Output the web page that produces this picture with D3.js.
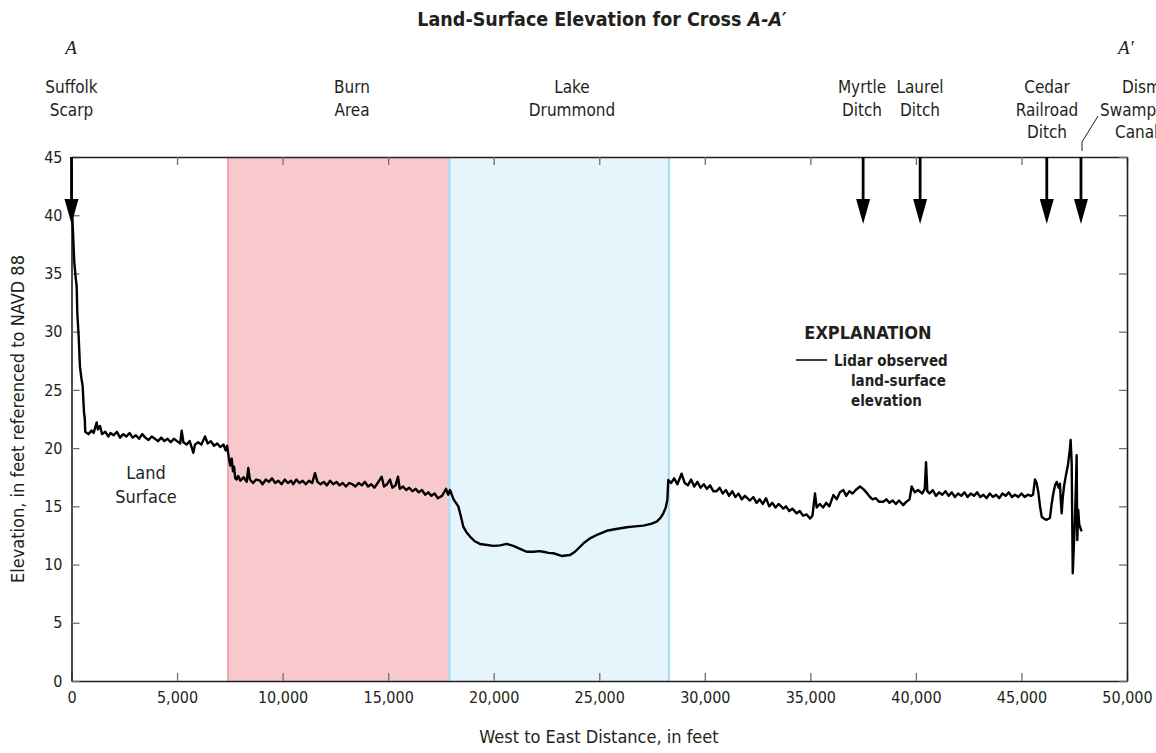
<!DOCTYPE html>
<html lang="en">

<head>
  <meta charset="utf-8">
  <title>Land-Surface Elevation for Cross A-A'</title>
  <script type="text/javascript" src="https://cdn.jsdelivr.net/npm/d3@7"></script>
  <style>
    body { margin: 0; background: #fff; }
    svg text { font-family: "Liberation Sans Narrow", "DejaVu Sans Condensed", "Liberation Sans", sans-serif; fill: #231f20; }
  </style>
</head>

<body>

  <script type="text/javascript">

    // Lidar profile, [distance in feet, elevation in feet]
    var scarpProfile = [
      [0, 40.6], [40, 39.8], [85, 37.9], [130, 36.0], [165, 35.3], [200, 34.6], [245, 33.9],
      [275, 31.6], [340, 29.6], [400, 27.0], [470, 26.0], [530, 25.3], [590, 23.1], [630, 22.5]];

    var westFlat = [
      [650, 21.4], [800, 21.2], [950, 21.5], [1050, 21.3], [1190, 22.2], [1250, 21.6], [1350, 21.9],
      [1450, 21.2], [1600, 21.4], [1750, 21.0], [1850, 21.3], [2000, 21.1], [2150, 21.4], [2300, 20.9],
      [2450, 21.2], [2600, 21.0], [2750, 21.3], [2900, 20.9], [3050, 21.1], [3200, 20.8], [3350, 21.2],
      [3500, 20.9], [3650, 20.7], [3800, 21.0], [3950, 20.8], [4100, 20.6], [4250, 20.9], [4400, 20.6],
      [4550, 20.8], [4700, 20.5], [4850, 20.8], [5000, 20.6], [5150, 20.4], [5220, 21.5], [5300, 20.5],
      [5450, 20.3], [5600, 20.6], [5770, 19.6], [5850, 20.3], [6000, 20.5], [6150, 20.3], [6324, 21.0],
      [6450, 20.4], [6600, 20.6], [6750, 20.2], [6900, 20.4], [7050, 20.1], [7200, 20.3], [7300, 19.8],
      [7370, 20.2], [7450, 19.2], [7520, 18.5], [7590, 19.1], [7650, 18.0], [7700, 18.4], [7760, 17.4],
      [7825, 17.3], [7900, 17.6]];

    var burnProfile = [
      [8000, 17.2], [8150, 17.5], [8300, 17.1], [8375, 18.3], [8450, 17.3], [8600, 17.0], [8750, 17.3],
      [8930, 17.2], [9050, 16.9], [9200, 17.3], [9350, 17.1], [9500, 17.4], [9650, 17.0], [9800, 17.2],
      [9950, 16.9], [10100, 17.3], [10250, 17.0], [10400, 17.2], [10500, 16.9], [10650, 17.3],
      [10800, 17.0], [10950, 17.2], [11100, 16.9], [11250, 17.2], [11400, 17.0], [11535, 17.85],
      [11650, 17.1], [11800, 16.9], [11950, 17.1], [12100, 16.8], [12250, 17.2], [12400, 16.9],
      [12550, 17.1], [12700, 16.8], [12850, 17.0], [13000, 16.7], [13150, 17.0], [13300, 16.9],
      [13450, 16.7], [13600, 17.0], [13750, 16.8], [13900, 17.1], [14050, 16.7], [14200, 16.9],
      [14350, 16.6], [14500, 17.0], [14694, 17.55], [14800, 16.7], [14950, 16.9], [15088, 17.3],
      [15200, 16.6], [15350, 16.8], [15467, 17.55], [15550, 16.5], [15700, 16.7], [15850, 16.4],
      [16000, 16.6], [16150, 16.3], [16300, 16.5], [16450, 16.2], [16600, 16.4], [16750, 16.0],
      [16900, 16.2], [17050, 15.9], [17200, 16.1], [17350, 15.7], [17456, 15.8], [17550, 15.9],
      [17650, 16.2], [17740, 16.5], [17850, 16.0], [17930, 16.4]];

    var lakeProfile = [
      [18100, 15.6], [18324, 15.0], [18450, 14.1], [18560, 13.25], [18700, 12.8], [18877, 12.4],
      [19100, 12.0], [19350, 11.77], [19600, 11.7], [19981, 11.6], [20300, 11.65], [20615, 11.77],
      [20930, 11.6], [21250, 11.35], [21563, 11.1], [21900, 11.1], [22150, 11.15], [22350, 11.1],
      [22600, 11.0], [22825, 10.97], [23220, 10.74], [23615, 10.82], [23850, 11.1], [24090, 11.53],
      [24300, 11.9], [24562, 12.25], [24950, 12.6], [25353, 12.9], [25800, 13.05], [26300, 13.2],
      [26700, 13.28], [27087, 13.34], [27450, 13.5], [27720, 13.68], [27900, 14.0], [28035, 14.4],
      [28150, 14.9], [28225, 15.54], [28270, 17.26]];

    var eastProfile = [
      [28400, 17.0], [28550, 17.4], [28700, 16.9], [28900, 17.8], [29050, 17.0], [29200, 16.8],
      [29350, 17.3], [29500, 16.7], [29650, 17.1], [29800, 16.6], [29950, 16.9], [30100, 16.5],
      [30250, 16.8], [30400, 16.3], [30560, 16.3], [30700, 16.6], [30850, 16.1], [31000, 16.4],
      [31150, 15.9], [31300, 16.3], [31450, 15.8], [31600, 16.1], [31750, 15.6], [31900, 15.9],
      [32140, 15.5], [32300, 15.8], [32450, 15.3], [32600, 15.6], [32750, 15.2], [32900, 15.7],
      [33050, 15.0], [33200, 15.3], [33350, 14.9], [33500, 15.2], [33720, 14.8], [33850, 15.0],
      [34000, 14.6], [34150, 14.8], [34350, 14.4], [34500, 14.6], [34650, 14.2], [34827, 14.3],
      [34985, 13.95], [35100, 14.2], [35220, 16.1], [35300, 14.9], [35450, 15.2], [35600, 14.9],
      [35750, 15.3], [35900, 15.0], [36090, 15.97], [36250, 15.6], [36400, 16.2], [36560, 16.4],
      [36700, 15.9], [36850, 16.3], [37000, 16.1], [37150, 16.4], [37350, 16.7], [37500, 16.5],
      [37650, 16.2], [37825, 15.8], [37950, 15.6], [38100, 15.7], [38250, 15.4], [38455, 15.4],
      [38600, 15.6], [38750, 15.3], [38900, 15.5], [39050, 15.2], [39200, 15.5], [39400, 15.1],
      [39550, 15.4], [39700, 15.6], [39800, 16.7], [39950, 16.2], [40100, 16.4], [40300, 16.1],
      [40420, 16.5], [40480, 18.8], [40540, 16.3], [40650, 16.1], [40800, 16.4], [40950, 15.9],
      [41100, 16.2], [41250, 16.0], [41400, 16.3], [41550, 15.9], [41700, 16.2], [41850, 15.8],
      [42000, 16.1], [42150, 15.9], [42300, 16.2], [42450, 15.8], [42600, 16.1], [42750, 15.9],
      [42900, 16.2], [43050, 15.8], [43200, 16.0], [43350, 15.7], [43500, 16.1], [43650, 15.8],
      [43800, 16.0], [43950, 15.7], [44100, 16.1], [44250, 15.9], [44400, 16.2], [44550, 15.8],
      [44700, 16.0], [44850, 15.8], [45000, 16.1], [45150, 15.8], [45300, 16.0], [45450, 15.9]];

    var canalProfile = [
      [45550, 16.0], [45640, 17.3], [45720, 17.0], [45800, 16.2], [45880, 15.0], [45960, 14.1],
      [46100, 13.9], [46195, 13.85], [46350, 14.0], [46430, 15.2], [46510, 16.1], [46590, 16.8],
      [46670, 17.1], [46760, 16.6], [46825, 16.95], [46860, 15.6], [46905, 14.4], [46960, 15.8],
      [47015, 16.7], [47080, 17.4], [47140, 17.97], [47200, 18.5], [47250, 19.26], [47300, 20.0],
      [47330, 20.7], [47380, 18.7], [47430, 9.25], [47480, 11.5], [47535, 13.8], [47590, 17.5],
      [47615, 19.4], [47645, 12.1], [47690, 14.7], [47740, 13.4], [47775, 13.25], [47820, 13.0],
      [47855, 12.85]];

    // Shaded zones, [start, end] in feet
    var burnZone = [7370, 17900];
    var lakeZone = [17900, 28300];

    // Features marked with arrows along the top
    var featureNames = ["Suffolk Scarp", "Myrtle Ditch", "Laurel Ditch", "Cedar Railroad Ditch", "Dismal Swamp Canal"];
    var featureDistances = [0, 37500, 40200, 46200, 47820];

    // Tick values
    var xTicks = [0, 5000, 10000, 15000, 20000, 25000, 30000, 35000, 40000, 45000, 50000];
    var yTicks = [0, 5, 10, 15, 20, 25, 30, 35, 40, 45];

    var profile = scarpProfile.concat(westFlat, burnProfile, lakeProfile, eastProfile, canalProfile);

    var w = 1156;
    var h = 753;
    // plot box edges in pixels ("top" is taken by window.top)
    var plotLeft = 71.5, plotRight = 1127, plotTop = 157, plotBottom = 681;

    var xScale = d3.scaleLinear().domain([0, 50000]).range([plotLeft, plotRight]);
    var yScale = d3.scaleLinear().domain([0, 45]).range([plotBottom, plotTop]);

    var svg = d3.select("body")
      .append("svg")
      .attr("width", w)
      .attr("height", h);

    // Burn area and lake fills
    svg.append("rect")
      .attr("x", xScale(burnZone[0]))
      .attr("y", plotTop)
      .attr("width", xScale(burnZone[1]) - xScale(burnZone[0]))
      .attr("height", plotBottom - plotTop + 1)
      .attr("fill", "#f7c8cc");
    svg.append("line")
      .attr("x1", xScale(burnZone[0]) + 1).attr("x2", xScale(burnZone[0]) + 1)
      .attr("y1", plotTop).attr("y2", plotBottom + 1)
      .attr("stroke", "#f0a6b2").attr("stroke-width", 2);

    svg.append("rect")
      .attr("x", xScale(lakeZone[0]))
      .attr("y", plotTop)
      .attr("width", xScale(lakeZone[1]) - xScale(lakeZone[0]))
      .attr("height", plotBottom - plotTop + 1)
      .attr("fill", "#e6f4fb");
    svg.selectAll("line.lakeedge")
      .data(lakeZone)
      .enter()
      .append("line")
      .attr("class", "lakeedge")
      .attr("x1", function (d) { return xScale(d); })
      .attr("x2", function (d) { return xScale(d); })
      .attr("y1", plotTop).attr("y2", plotBottom + 1)
      .attr("stroke", "#b2def4").attr("stroke-width", 2.5);

    // Axes, ticks pointing inward
    var xAxis = d3.axisBottom(xScale).tickValues(xTicks).tickSizeInner(-8).tickSizeOuter(0)
      .tickPadding(11).tickFormat(d3.format(","));
    var yAxis = d3.axisLeft(yScale).tickValues(yTicks).tickSizeInner(-8).tickSizeOuter(0).tickPadding(9);
    var topAxis = d3.axisTop(xScale).tickValues(xTicks).tickSizeInner(-8).tickSizeOuter(0).tickFormat("");
    var rightAxis = d3.axisRight(yScale).tickValues(yTicks).tickSizeInner(-8).tickSizeOuter(0).tickFormat("");

    function styleAxis(g) {
      g.attr("font-family", null).attr("font-size", null);
      g.select(".domain").attr("stroke", "#231f20").attr("stroke-width", 1.6);
      g.selectAll(".tick line").attr("stroke", "#6d6e71").attr("stroke-width", 1.3);
      g.selectAll(".tick text").attr("font-size", "16px").attr("fill", "#231f20");
    }

    svg.append("g").attr("transform", "translate(0," + plotBottom + ")").call(xAxis).call(styleAxis);
    svg.append("g").attr("transform", "translate(" + plotLeft + ",0)").call(yAxis).call(styleAxis);
    svg.append("g").attr("transform", "translate(0," + plotTop + ")").call(topAxis).call(styleAxis);
    svg.append("g").attr("transform", "translate(" + plotRight + ",0)").call(rightAxis).call(styleAxis);

    // Elevation line
    var line = d3.line()
      .x(function (d) { return xScale(d[0]); })
      .y(function (d) { return yScale(d[1]); });

    svg.append("path")
      .datum(profile)
      .attr("d", line)
      .attr("fill", "none")
      .attr("stroke", "#000")
      .attr("stroke-width", 2.4)
      .attr("stroke-linejoin", "round");

    // Feature arrows
    var arrows = svg.append("g");
    featureDistances.forEach(function (d) {
      var ax = xScale(d);
      arrows.append("line")
        .attr("x1", ax).attr("x2", ax)
        .attr("y1", plotTop).attr("y2", 205)
        .attr("stroke", "#000").attr("stroke-width", 2.8);
      arrows.append("path")
        .attr("d", "M" + (ax - 7) + ",199L" + (ax + 7) + ",199L" + ax + ",224Z")
        .attr("fill", "#000");
    });

    // Feature labels
    var labels = [
      { lines: ["Suffolk", "Scarp"], x: xScale(featureDistances[0]) },
      { lines: ["Burn", "Area"], x: 352 },
      { lines: ["Lake", "Drummond"], x: 572 },
      { lines: ["Myrtle", "Ditch"], x: 862 },
      { lines: ["Laurel", "Ditch"], x: 920 },
      { lines: ["Cedar", "Railroad", "Ditch"], x: 1047 }];

    labels.forEach(function (l) {
      svg.append("text")
        .attr("text-anchor", "middle")
        .attr("font-size", "17px")
        .selectAll("tspan")
        .data(l.lines)
        .enter()
        .append("tspan")
        .attr("x", l.x)
        .attr("y", function (d, i) { return 93 + i * 22.5; })
        .text(function (d) { return d; });
    });

    // Dismal Swamp Canal runs off the page edge, each line set by hand
    var dismal = [["Dismal", 1122], ["Swamp", 1100], ["Canal", 1115]];
    svg.append("text")
      .attr("font-size", "17px")
      .selectAll("tspan")
      .data(dismal)
      .enter()
      .append("tspan")
      .attr("x", function (d) { return d[1]; })
      .attr("y", function (d, i) { return 93 + i * 22.5; })
      .text(function (d) { return d[0]; });

    svg.append("path")
      .attr("d", "M1082," + (plotTop - 6) + "L1082,142L1098,116")
      .attr("fill", "none")
      .attr("stroke", "#231f20")
      .attr("stroke-width", 1);

    // Section end letters
    svg.append("text")
      .attr("x", 71).attr("y", 54)
      .attr("text-anchor", "middle")
      .style("font-family", "'Liberation Serif', serif")
      .style("font-style", "italic")
      .attr("font-size", "19px")
      .text("A");
    svg.append("text")
      .attr("x", 1118).attr("y", 54)
      .style("font-family", "'Liberation Serif', serif")
      .style("font-style", "italic")
      .attr("font-size", "19px")
      .text("A\u2032");

    // Title
    var title = svg.append("text")
      .attr("x", 602).attr("y", 26)
      .attr("text-anchor", "middle")
      .attr("font-size", "19.5px")
      .attr("font-weight", "bold")
      .text("Land-Surface Elevation for Cross ");
    title.append("tspan")
      .style("font-style", "italic")
      .text("A-A\u2032");

    // Land Surface label
    svg.append("text")
      .attr("text-anchor", "middle")
      .attr("font-size", "18px")
      .selectAll("tspan")
      .data(["Land", "Surface"])
      .enter()
      .append("tspan")
      .attr("x", 146)
      .attr("y", function (d, i) { return 479 + i * 24; })
      .text(function (d) { return d; });

    // Explanation
    svg.append("text")
      .attr("x", 868).attr("y", 339)
      .attr("text-anchor", "middle")
      .attr("font-size", "18px")
      .attr("font-weight", "bold")
      .text("EXPLANATION");
    svg.append("line")
      .attr("x1", 796).attr("x2", 827)
      .attr("y1", 360).attr("y2", 360)
      .attr("stroke", "#000").attr("stroke-width", 1.5);
    svg.append("text")
      .attr("font-size", "15px")
      .attr("font-weight", "bold")
      .selectAll("tspan")
      .data([["Lidar observed", 834, 366], ["land-surface", 851, 386], ["elevation", 851, 406]])
      .enter()
      .append("tspan")
      .attr("x", function (d) { return d[1]; })
      .attr("y", function (d) { return d[2]; })
      .text(function (d) { return d[0]; });

    // Axis titles
    svg.append("text")
      .attr("x", 599).attr("y", 743)
      .attr("text-anchor", "middle")
      .attr("font-size", "18px")
      .text("West to East Distance, in feet");

    svg.append("text")
      .attr("transform", "rotate(-90)")
      .attr("x", -(plotTop + plotBottom) / 2)
      .attr("y", 24)
      .attr("text-anchor", "middle")
      .attr("font-size", "18px")
      .text("Elevation, in feet referenced to NAVD 88");

  </script>

</body>

</html>
